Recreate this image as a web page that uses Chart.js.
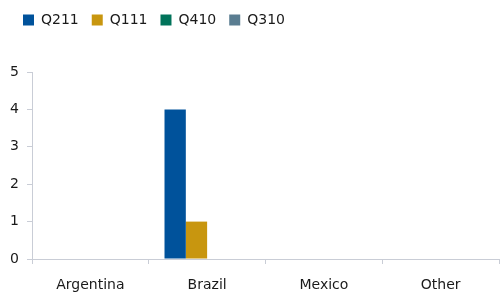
<!DOCTYPE html>
<html>
<head>
<meta charset="utf-8">
<script src="https://cdn.jsdelivr.net/npm/chart.js@4"></script>
<style>
  html, body { margin: 0; padding: 0; background: #fff; }
  #wrap { width: 500px; height: 294px; }
</style>
</head>
<body>
<div id="wrap"><canvas id="chart"></canvas></div>
<script>
// categories and series
const countries = ['Argentina', 'Brazil', 'Mexico', 'Other'];
const q211 = [0, 4, 0, 0];
const q111 = [0, 1, 0, 0];
const q410 = [0, 0, 0, 0];
const q310 = [0, 0, 0, 0];
const yTicks = [0, 1, 2, 3, 4, 5];

const axisColor = '#c9cdd6';
const font = { family: 'DejaVu Sans, Verdana, sans-serif', size: 14 };

new Chart(document.getElementById('chart'), {
    type: 'bar',
    data: {
        labels: countries,
        datasets: [
            { label: 'Q211', data: q211, backgroundColor: '#00529b' },
            { label: 'Q111', data: q111, backgroundColor: '#c8960f' },
            { label: 'Q410', data: q410, backgroundColor: '#00735a' },
            { label: 'Q310', data: q310, backgroundColor: '#5a7d91' }
        ]
    },
    options: {
        responsive: true,
        maintainAspectRatio: false,
        animation: false,
        layout: { padding: { left: 10, right: 1, top: 0, bottom: 0 } },
        datasets: { bar: { barPercentage: 1, categoryPercentage: 0.73 } },
        plugins: {
            legend: {
                position: 'top',
                align: 'start',
                labels: {
                    color: '#1a1a1a',
                    font: font,
                    boxWidth: 11,
                    boxHeight: 11,
                    padding: 13
                }
            },
            tooltip: { enabled: false }
        },
        scales: {
            x: {
                afterFit: s => { s.height = 35; },
                grid: {
                    display: true,
                    drawOnChartArea: false,
                    offset: true,
                    color: axisColor,
                    tickLength: 5
                },
                border: { color: axisColor },
                ticks: { color: '#1a1a1a', font: font, padding: 13 }
            },
            y: {
                min: 0,
                max: 5,
                afterFit: s => { s.width = 22; },
                afterBuildTicks: axis => { axis.ticks = yTicks.map(v => ({ value: v })); },
                grid: {
                    display: true,
                    drawOnChartArea: false,
                    color: axisColor,
                    tickLength: 5
                },
                border: { color: axisColor },
                ticks: { color: '#1a1a1a', font: font, padding: 8 }
            }
        }
    },
    plugins: [{
        id: 'legendGap',
        beforeInit(chart) {
            const fit = chart.legend.fit;
            chart.legend.fit = function () {
                fit.bind(this)();
                this.height += 35;
            };
        }
    }]
});
</script>
</body>
</html>
